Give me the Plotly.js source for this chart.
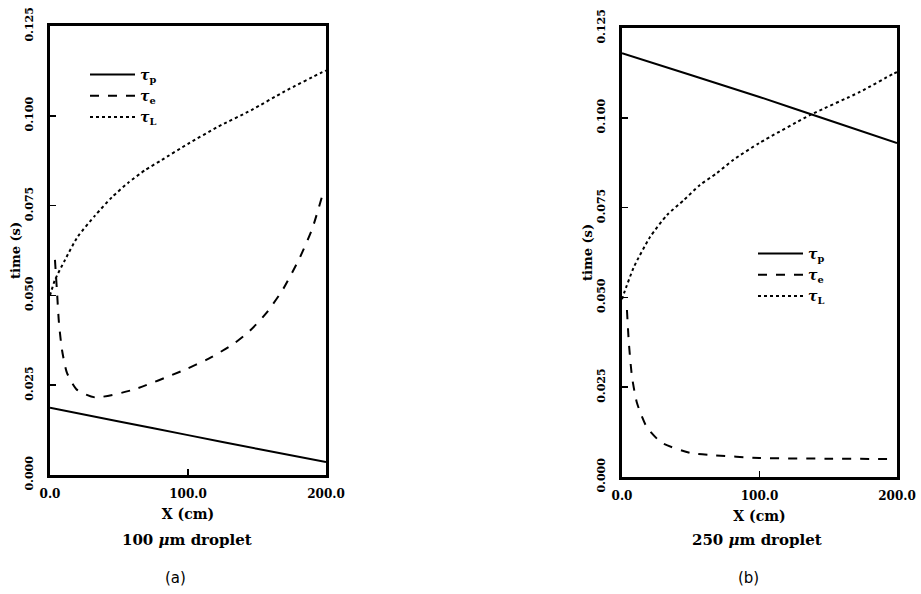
<!DOCTYPE html>
<html>
<head>
<meta charset="utf-8">
<script src="https://cdn.plot.ly/plotly-3.0.1.min.js"></script>
<style>html,body{margin:0;padding:0;background:#fff;}</style>
</head>
<body>
<div id="chart" style="width:921px;height:594px;"></div>
<script>
// ---- Panel (a): 100 um droplet ----
var aTauPX = [0, 50, 100, 150, 200];
var aTauPY = [0.0187, 0.0149, 0.0111, 0.0073, 0.0036];

var aTauEX = [3.6, 5, 6.5, 8.7, 12.3, 19.6, 32.6, 60, 97, 115, 133, 145, 157, 169, 181, 190, 197];
var aTauEY = [0.0599, 0.0515, 0.0423, 0.0348, 0.0284, 0.0237, 0.0216, 0.0237, 0.0292, 0.0324, 0.0365, 0.0402, 0.0452, 0.0518, 0.0605, 0.0685, 0.0774];

var aTauLX = [0, 3.6, 10.9, 20, 32.6, 45, 56.5, 69, 81, 100, 122, 146, 170, 196, 200];
var aTauLY = [0.0500, 0.0543, 0.0599, 0.0663, 0.0722, 0.0774, 0.0813, 0.0849, 0.0877, 0.0922, 0.0970, 0.1016, 0.1068, 0.1119, 0.1126];

// ---- Panel (b): 250 um droplet ----
var bTauPX = [0, 50, 100, 150, 200];
var bTauPY = [0.1180, 0.1119, 0.1058, 0.0994, 0.0930];

var bTauEX = [3.6, 5, 7.3, 10.9, 18, 29, 49.5, 65, 100, 150, 197];
var bTauEY = [0.0465, 0.0373, 0.0278, 0.0206, 0.0139, 0.0095, 0.0067, 0.0061, 0.0053, 0.0051, 0.005];

var bTauLX = [0, 1.5, 8.7, 20.4, 32.7, 45, 56.7, 69, 81, 100, 137, 173, 197, 200];
var bTauLY = [0.0495, 0.0512, 0.0585, 0.0668, 0.0729, 0.0771, 0.0813, 0.0846, 0.0883, 0.0930, 0.1008, 0.1072, 0.1122, 0.1127];

var seriesNames = ['<b><i>τ</i><sub>p</sub></b>', '<b><i>τ</i><sub>e</sub></b>', '<b><i>τ</i><sub>L</sub></b>'];
var xTickVals = [0, 100, 200];
var xTickText = ['<b>0.0</b>', '<b>100.0</b>', '<b>200.0</b>'];
var yTickVals = [0, 0.025, 0.05, 0.075, 0.1, 0.125];
var yTickText = ['<b>0.000</b>', '<b>0.025</b>', '<b>0.050</b>', '<b>0.075</b>', '<b>0.100</b>', '<b>0.125</b>'];
var xTitle = '<b>X (cm)</b>';
var yTitle = '<b>time (s)</b>';
var panelLabels = ['<b>100 <i>μ</i>m droplet</b>', '<b>250 <i>μ</i>m droplet</b>'];
var panelTags = ['(a)', '(b)'];

var serif = 'DejaVu Serif, Liberation Serif, serif';

function tr(x, y, name, dash, w, xa, ya, lg) {
  return {x: x, y: y, name: name, type: 'scatter', mode: 'lines',
    line: {color: '#000', width: w, dash: dash, shape: 'spline', smoothing: 0.6},
    xaxis: xa, yaxis: ya, legend: lg, hoverinfo: 'skip'};
}

var data = [
  tr(aTauPX, aTauPY, seriesNames[0], 'solid', 2, 'x', 'y', 'legend'),
  tr(aTauEX, aTauEY, seriesNames[1], 'dash', 2, 'x', 'y', 'legend'),
  tr(aTauLX, aTauLY, seriesNames[2], 'dot', 2, 'x', 'y', 'legend'),
  tr(bTauPX, bTauPY, seriesNames[0], 'solid', 2, 'x2', 'y2', 'legend2'),
  tr(bTauEX, bTauEY, seriesNames[1], 'dash', 2, 'x2', 'y2', 'legend2'),
  tr(bTauLX, bTauLY, seriesNames[2], 'dot', 2, 'x2', 'y2', 'legend2')
];

function xax(dom, anchor) {
  return {domain: dom, anchor: anchor, range: [0, 200], showline: true, mirror: true,
    linewidth: 3, linecolor: '#000', ticks: 'inside', ticklen: 6, tickwidth: 1.5, tickcolor: '#000',
    tickvals: xTickVals, ticktext: xTickText, showgrid: false, zeroline: false,
    ticklabelstandoff: 6,
    tickfont: {family: serif, size: 12, color: '#000'},
    title: {text: xTitle, font: {family: serif, size: 14, color: '#000'}, standoff: 9}};
}
function yax(dom, anchor) {
  return {domain: dom, anchor: anchor, range: [0, 0.125], showline: true, mirror: true,
    linewidth: 3, linecolor: '#000', ticks: 'inside', ticklen: 6, tickwidth: 1.5, tickcolor: '#000',
    tickvals: yTickVals, ticktext: yTickText, tickangle: -90, showgrid: false, zeroline: false,
    ticklabelstandoff: 10,
    tickfont: {family: serif, size: 11, color: '#000'},
    title: {text: yTitle, font: {family: serif, size: 13, color: '#000'}, standoff: 0}};
}

var legFont = {family: serif, size: 14, color: '#000'};

function ann(text, px, py, font) {
  return {text: text, x: px/921, y: 1 - py/594, xref: 'paper', yref: 'paper', showarrow: false,
    xanchor: 'center', yanchor: 'middle', font: font};
}
var labFont = {family: serif, size: 15, color: '#000'};
var tagFont = {family: 'DejaVu Sans, sans-serif', size: 15, color: '#000'};

var layout = {
  width: 921, height: 594,
  margin: {l: 0, r: 0, t: 0, b: 0},
  paper_bgcolor: '#fff', plot_bgcolor: '#fff',
  showlegend: true,
  xaxis: xax([50/921, 326/921], 'y'),
  yaxis: yax([1 - 475/594, 1 - 26/594], 'x'),
  xaxis2: xax([622/921, 897/921], 'y2'),
  yaxis2: yax([1 - 477/594, 1 - 28/594], 'x2'),
  legend: {x: 85/921, y: 1 - 59/594, xanchor: 'left', yanchor: 'top', bgcolor: 'rgba(0,0,0,0)',
    font: legFont, itemwidth: 45, tracegroupgap: 0},
  legend2: {x: 753/921, y: 1 - 238/594, xanchor: 'left', yanchor: 'top', bgcolor: 'rgba(0,0,0,0)',
    font: legFont, itemwidth: 45, tracegroupgap: 0},
  annotations: [
    ann(panelLabels[0], 187, 540, labFont),
    ann(panelLabels[1], 757, 540, labFont),
    ann(panelTags[0], 175, 578, tagFont),
    ann(panelTags[1], 748, 578, tagFont)
  ]
};

Plotly.newPlot('chart', data, layout, {displayModeBar: false, staticPlot: true});
</script>
</body>
</html>
